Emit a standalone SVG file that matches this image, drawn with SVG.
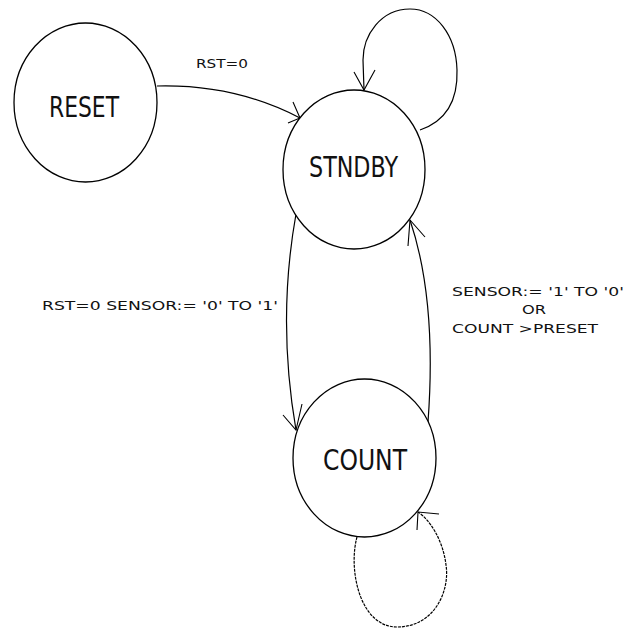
<svg xmlns="http://www.w3.org/2000/svg" width="636" height="629" viewBox="0 0 636 629">
  <style>
    .state { fill: #ffffff; stroke: #000000; stroke-width: 1.3; }
    .name { font-family: "DejaVu Sans Condensed", "DejaVu Sans", sans-serif; font-stretch: condensed; font-size: 29px; fill: #111111; }
    .label { font-family: "DejaVu Sans", "Liberation Sans", sans-serif; font-size: 13px; fill: #111111; }
    .edge { fill: none; stroke: #000000; stroke-width: 1.2; }
    .head { fill: none; stroke: #000000; stroke-width: 1.1; }
  </style>
  <rect width="636" height="629" fill="#ffffff"/>

  <g id="connectors">
    <!-- RESET -> STNDBY -->
    <path class="edge" d="M157,86 Q235,84 300,118"/>
    <path class="head" d="M293,102 L300,118 L288,123"/>
    <!-- STNDBY self loop -->
    <path class="edge" d="M420,130 C446,121 458,100 457,70 C456,35 436,9 410,9 C381,9 363,35 363,60 L364,90"/>
    <path class="head" d="M354,72 L364,90 L375,70"/>
    <!-- STNDBY -> COUNT -->
    <path class="edge" d="M296,214 Q277,320 296,430"/>
    <path class="head" d="M283,415 L296,430 L302,404"/>
    <!-- COUNT -> STNDBY -->
    <path class="edge" d="M428,422 Q437,300 410,220"/>
    <path class="head" d="M408,246 L410,220 L425,237"/>
    <!-- COUNT self loop -->
    <path class="edge" stroke-dasharray="3 1" d="M357,537 C348,570 360,627 397,627 C435,627 450,590 446,565 C443,540 430,520 418,512"/>
    <path class="head" d="M417,530 L418,512 L439,514"/>
  </g>

  <g id="reset">
    <ellipse class="state" cx="85.5" cy="102.5" rx="71.5" ry="79.5"/>
    <text class="name" x="49" y="117" textLength="70" lengthAdjust="spacingAndGlyphs">RESET</text>
  </g>

  <g id="stndby">
    <ellipse class="state" cx="354" cy="169.5" rx="71" ry="79.5"/>
    <text class="name" x="309" y="177" textLength="89" lengthAdjust="spacingAndGlyphs">STNDBY</text>
  </g>

  <g id="count">
    <ellipse class="state" cx="364.5" cy="458" rx="71.5" ry="79"/>
    <text class="name" x="323" y="470" textLength="84" lengthAdjust="spacingAndGlyphs">COUNT</text>
  </g>

  <g id="labels">
    <text class="label" x="196" y="68" textLength="52" lengthAdjust="spacingAndGlyphs">RST=0</text>
    <text class="label" x="42" y="310" textLength="236" lengthAdjust="spacingAndGlyphs">RST=0 SENSOR:= '0' TO '1'</text>
    <text class="label" x="452" y="296" textLength="172" lengthAdjust="spacingAndGlyphs">SENSOR:= '1' TO '0'</text>
    <text class="label" x="522" y="314" textLength="24" lengthAdjust="spacingAndGlyphs">OR</text>
    <text class="label" x="452" y="333" textLength="146" lengthAdjust="spacingAndGlyphs">COUNT &gt;PRESET</text>
  </g>
</svg>
